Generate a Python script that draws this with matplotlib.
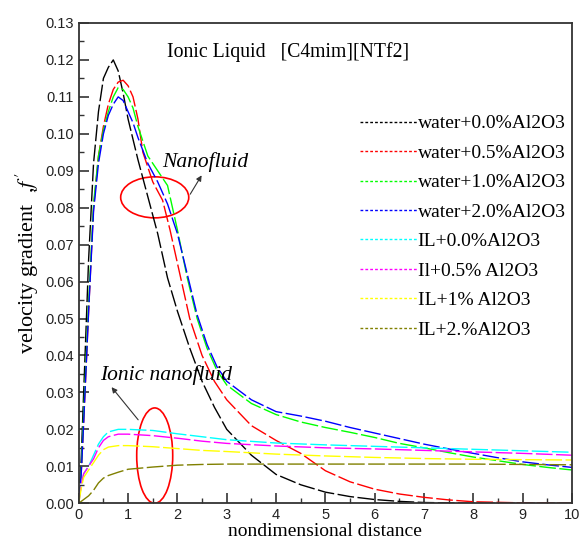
import matplotlib
matplotlib.use("Agg")
import matplotlib.pyplot as plt
from matplotlib.patches import Ellipse
from matplotlib.lines import Line2D
from matplotlib.ticker import MultipleLocator

plt.rcParams["font.family"] = ["Liberation Serif", "DejaVu Serif"]
plt.rcParams["mathtext.fontset"] = "stix"

# %% data
x_w0 = [0, 0.05, 0.1, 0.2, 0.3, 0.4, 0.5, 0.6, 0.7, 0.8, 0.9, 1.0, 1.2, 1.4, 1.6, 1.8,
        2.0, 2.25, 2.5, 2.75, 3.0, 3.5, 4.0, 4.5, 5.0, 5.5, 6.0, 6.5, 7.0, 8.0, 9.0, 10.0]
water_00 = [0, 0.012, 0.030, 0.066, 0.092, 0.106, 0.115, 0.118, 0.120, 0.117, 0.111, 0.104,
            0.093, 0.083, 0.073, 0.061, 0.052, 0.042, 0.033, 0.026, 0.020, 0.013, 0.0078,
            0.0050, 0.0030, 0.0018, 0.0010, 0.0005, 0.0002, 0.0, 0.0, 0.0]

x_w05 = [0, 0.05, 0.1, 0.2, 0.3, 0.4, 0.5, 0.6, 0.7, 0.8, 0.9, 1.0, 1.1, 1.2, 1.3, 1.5,
         1.7, 1.85, 2.0, 2.25, 2.5, 2.75, 3.0, 3.5, 4.0, 4.5, 5.0, 5.5, 6.0, 6.5, 7.0,
         7.5, 8.0, 9.0, 10.0]
water_05 = [0, 0.008, 0.022, 0.052, 0.080, 0.094, 0.102, 0.108, 0.112, 0.114, 0.1145, 0.113,
            0.110, 0.104, 0.095, 0.087, 0.082, 0.074, 0.065, 0.050, 0.040, 0.033, 0.028,
            0.021, 0.017, 0.0135, 0.0088, 0.0058, 0.0038, 0.0025, 0.0016, 0.0009, 0.0004,
            0.0001, 0.0]

x_w = [0, 0.05, 0.1, 0.2, 0.3, 0.4, 0.5, 0.6, 0.7, 0.8, 0.9, 1.0, 1.1, 1.2, 1.4, 1.6, 1.8,
       2.0, 2.2, 2.4, 2.6, 2.8, 3.0, 3.5, 4.0, 4.5, 5.0, 5.5, 6.0, 6.5, 7.0, 7.5, 8.0,
       8.5, 9.0, 9.5, 10.0]
water_10 = [0, 0.009, 0.024, 0.054, 0.081, 0.094, 0.101, 0.106, 0.110, 0.1125, 0.112, 0.110,
            0.107, 0.102, 0.094, 0.090, 0.086, 0.074, 0.061, 0.050, 0.042, 0.036, 0.032,
            0.027, 0.024, 0.022, 0.0205, 0.0192, 0.0178, 0.0162, 0.0150, 0.0137, 0.0125,
            0.0115, 0.0105, 0.0097, 0.0090]
water_20 = [0, 0.008, 0.022, 0.052, 0.079, 0.092, 0.100, 0.105, 0.108, 0.110, 0.109, 0.106,
            0.103, 0.099, 0.092, 0.087, 0.081, 0.073, 0.062, 0.051, 0.043, 0.037, 0.033,
            0.028, 0.0248, 0.0236, 0.0222, 0.0205, 0.0190, 0.0175, 0.0160, 0.0147, 0.0135,
            0.0123, 0.0112, 0.0104, 0.0097]

x_il = [0, 0.05, 0.1, 0.2, 0.3, 0.4, 0.5, 0.6, 0.8, 1.0, 1.5, 2.0, 2.5, 3.0, 4.0, 5.0,
        6.0, 7.0, 8.0, 9.0, 10.0]
il_00 = [0, 0.005, 0.008, 0.010, 0.013, 0.016, 0.018, 0.0193, 0.0200, 0.0200, 0.0197, 0.0188,
         0.0180, 0.0172, 0.0163, 0.0158, 0.0154, 0.0150, 0.0146, 0.0142, 0.0138]
il_05 = [0, 0.005, 0.008, 0.010, 0.012, 0.015, 0.017, 0.0180, 0.0187, 0.0187, 0.0183, 0.0176,
         0.0168, 0.0162, 0.0155, 0.0150, 0.0147, 0.0143, 0.0139, 0.0135, 0.0130]
il_10 = [0, 0.004, 0.007, 0.009, 0.011, 0.013, 0.0145, 0.0152, 0.0156, 0.0156, 0.0153, 0.0148,
         0.0143, 0.0140, 0.0133, 0.0128, 0.0124, 0.0121, 0.0119, 0.0118, 0.0117]
il_20 = [0, 0.0005, 0.001, 0.002, 0.0035, 0.0055, 0.0068, 0.0075, 0.0084, 0.0092, 0.0098,
         0.0103, 0.0105, 0.0106, 0.0106, 0.0106, 0.0106, 0.0106, 0.0106, 0.0105, 0.0104]

labels = ["water+0.0%Al2O3", "water+0.5%Al2O3", "water+1.0%Al2O3", "water+2.0%Al2O3",
          "IL+0.0%Al2O3", "Il+0.5% Al2O3", "IL+1% Al2O3", "IL+2.%Al2O3"]
colors = ["#000000", "#ff0000", "#00ff00", "#0000ff",
          "#00ffff", "#ff00ff", "#ffff00", "#808000"]
series = [(x_w0, water_00), (x_w05, water_05), (x_w, water_10), (x_w, water_20),
          (x_il, il_00), (x_il, il_05), (x_il, il_10), (x_il, il_20)]

# %% plot
fig = plt.figure(figsize=(5.79, 5.47), dpi=100)
ax = fig.add_axes([0.136, 0.080, 0.852, 0.878])

for (xs, ys), c in zip(series, colors):
    ax.plot(xs, ys, color=c, lw=1.0, linestyle=(0, (12, 2.5)))

ax.set_xlim(0, 10)
ax.set_ylim(0, 0.13)
ax.xaxis.set_major_locator(MultipleLocator(1))
ax.xaxis.set_minor_locator(MultipleLocator(0.5))
ax.yaxis.set_major_locator(MultipleLocator(0.01))
ax.yaxis.set_minor_locator(MultipleLocator(0.005))
ax.yaxis.set_major_formatter(plt.FuncFormatter(lambda v, p: f"{v:.2f}"))
ax.tick_params(which="major", direction="in", length=7, width=1.2, color="#333333")
ax.tick_params(which="minor", direction="in", length=3.5, width=1.0, color="#333333")
for lab in ax.get_xticklabels() + ax.get_yticklabels():
    lab.set_family("Liberation Sans")
    lab.set_fontsize(10.5)
    lab.set_color("#222222")
for s in ax.spines.values():
    s.set_linewidth(1.3)
    s.set_color("#333333")

ax.set_xlabel("nondimensional distance", fontsize=14, labelpad=1)
ax.set_ylabel("velocity gradient  ,$f\\,'$", fontsize=16, labelpad=3)

ax.text(1.78, 0.122, "Ionic Liquid   [C4mim][NTf2]", fontsize=14.2, va="center")

handles = [Line2D([], [], color=c, lw=1.0, linestyle=(0, (2, 1.5))) for c in colors]
ax.legend(handles, labels, loc="upper left", bbox_to_anchor=(0.555, 0.825), frameon=False,
          fontsize=14, handlelength=2.9, handletextpad=0.05, labelspacing=0.61,
          borderaxespad=0)

# annotations
ax.add_patch(Ellipse((1.54, 0.0828), 1.38, 0.0111, fill=False, edgecolor="red", lw=1.2))
ax.add_patch(Ellipse((1.54, 0.0129), 0.73, 0.0258, fill=False, edgecolor="red", lw=1.2))
ax.text(1.70, 0.0924, "Nanofluid", fontsize=15.5, style="italic", va="center")
ax.text(0.43, 0.0347, "Ionic nanofluid", fontsize=15.5, style="italic", va="center")
ax.annotate("", xy=(2.52, 0.0894), xytext=(2.23, 0.083),
            arrowprops=dict(arrowstyle="-|>", color="#333333", lw=0.8, mutation_scale=8))
ax.annotate("", xy=(0.63, 0.032), xytext=(1.24, 0.022),
            arrowprops=dict(arrowstyle="-|>", color="#333333", lw=0.8, mutation_scale=8))

fig.savefig("out.png", dpi=100)
